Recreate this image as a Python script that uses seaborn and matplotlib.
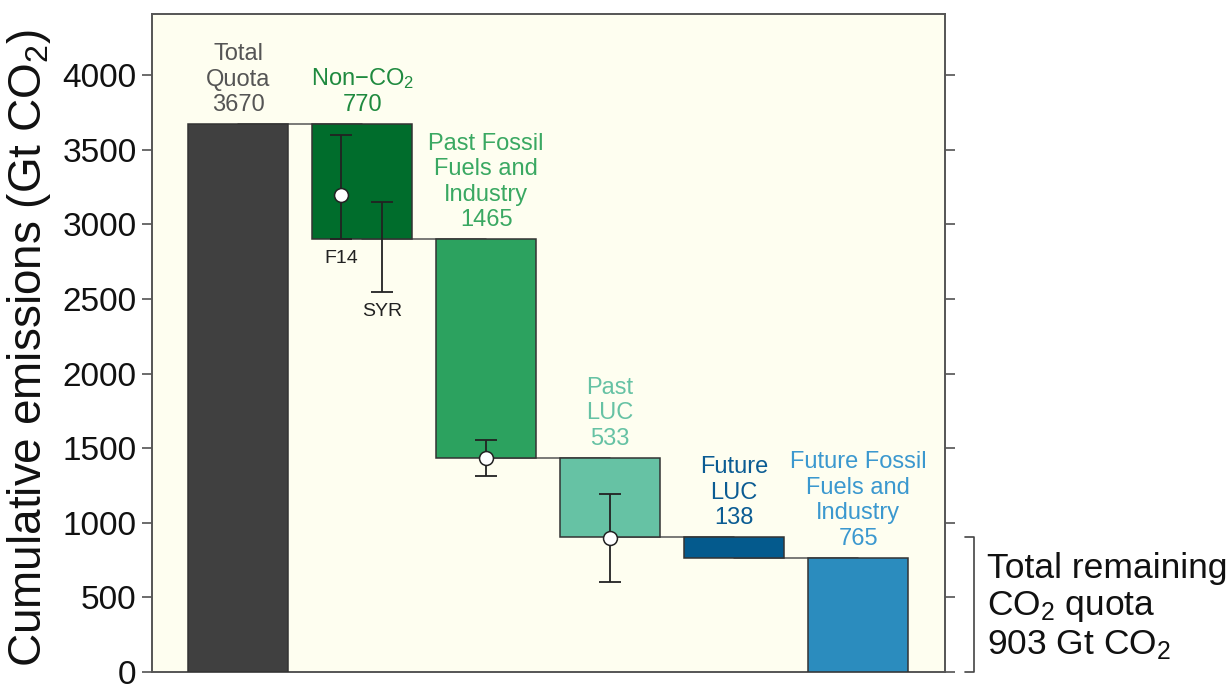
import numpy as np
import pandas as pd
import seaborn as sns
import matplotlib
matplotlib.use("Agg")
import matplotlib.pyplot as plt

# Carbon budget waterfall: total quota minus each component (Gt CO2)
categories = ["Total Quota", "Non-CO2", "Past Fossil Fuels and Industry",
              "Past LUC", "Future LUC", "Future Fossil Fuels and Industry"]
label_text = ["Total\nQuota\n3670", "Non\u2212CO$_2$\n770",
              "Past Fossil\nFuels and\nIndustry\n1465", "Past\nLUC\n533",
              "Future\nLUC\n138", "Future Fossil\nFuels and\nIndustry\n765"]
amounts = [3670, 770, 1465, 533, 138, 765]
remaining_quota = 903

bar_colors = ["#404040", "#006d2c", "#2ca25f", "#66c2a4", "#045a8d", "#2b8cbe"]
text_colors = ["#555555", "#1f8a3f", "#3aa862", "#66c2a4", "#0b5c93", "#3b98cf"]

# Uncertainty ranges: (category index, x offset, central value or None, low, high, tag)
err_cat = [1, 1, 2, 3]
err_off = [-0.17, 0.16, 0.0, 0.0]
err_mid = [3200, None, 1435, 900]
err_low = [2900, 2550, 1315, 605]
err_high = [3600, 3150, 1555, 1195]
err_tag = ["F14", "SYR", "", ""]

# Waterfall geometry: each component hangs below the previous one
tops = [amounts[0]]
bottoms = [0]
level = amounts[0]
for i, a in enumerate(amounts[1:], start=1):
    if i == len(amounts) - 1:
        tops.append(a)
        bottoms.append(0)
    else:
        tops.append(level)
        bottoms.append(level - a)
        level -= a

df = pd.DataFrame({"category": categories, "height": amounts})

sns.set_theme(style="ticks")
plt.rcParams["font.family"] = ["Liberation Sans", "DejaVu Sans"]
plt.rcParams["mathtext.fontset"] = "custom"
plt.rcParams["mathtext.rm"] = "Liberation Sans"
plt.rcParams["mathtext.it"] = "Liberation Sans"
plt.rcParams["mathtext.default"] = "regular"

fig = plt.figure(figsize=(12.31, 6.84), dpi=100)
ax = fig.add_axes([152 / 1231, 12 / 684, 793 / 1231, 658 / 684])
ax.set_facecolor("#fefef0")

sns.barplot(data=df, x="category", y="height", bottom=bottoms, width=0.806,
            color="#404040", edgecolor="#333333", linewidth=1.1,
            saturation=1, ax=ax, zorder=3)
for patch, c in zip(ax.patches, bar_colors):
    patch.set_facecolor(c)

# connector lines between successive steps
levels = [tops[0]] + bottoms[1:-1]
for i, lv in enumerate(levels):
    ax.plot([i, i + 1], [lv, lv], color="#555555", lw=1.1, zorder=2)

# uncertainty whiskers
for c, off, mid, lo, hi, tag in zip(err_cat, err_off, err_mid, err_low, err_high, err_tag):
    x = c + off
    ax.vlines(x, lo, hi, color="#222222", lw=1.3, zorder=4)
    ax.hlines([lo, hi], x - 0.09, x + 0.09, color="#222222", lw=1.3, zorder=4)
    if mid is not None:
        ax.plot(x, mid, "o", ms=10, mfc="white", mec="#222222", mew=1.1, zorder=5)
    if tag:
        ax.text(x, lo - 75, tag, ha="center", va="top", fontsize=14, color="#222222")

# component labels
for i, (t, c) in enumerate(zip(label_text, text_colors)):
    ax.annotate(t, (i, tops[i]), xytext=(0, 6), textcoords="offset points",
                ha="center", va="bottom", fontsize=17, color=c, linespacing=1.2)

ax.set_xlim(-0.694, 5.70)
ax.set_ylim(0, 4410)
ax.set_yticks(np.arange(0, 4001, 500))
ax.set_xticks([])
ax.set_xlabel("")
ax.set_ylabel("Cumulative emissions (Gt CO$_2$)", fontsize=33, color="#111111")
ax.yaxis.set_label_coords(-0.125, 0.492)
ax.tick_params(axis="y", which="both", direction="out", length=7, width=1.1,
               colors="#444444", labelcolor="#111111", labelsize=24,
               right=True, labelright=False, pad=4)
for s in ax.spines.values():
    s.set_color("#555555")
    s.set_linewidth(1.4)

# bracket for the remaining quota
bx, bt = 5.935, 5.865
ax.plot([bt, bx, bx, bt], [remaining_quota, remaining_quota, 0, 0],
        color="#444444", lw=1.2, clip_on=False)
ax.text(6.04, 435, "Total remaining\nCO$_2$ quota\n903 Gt CO$_2$", ha="left",
        va="center", fontsize=25.5, color="#111111", linespacing=1.15)

fig.savefig("out.png", dpi=100, facecolor="white")
